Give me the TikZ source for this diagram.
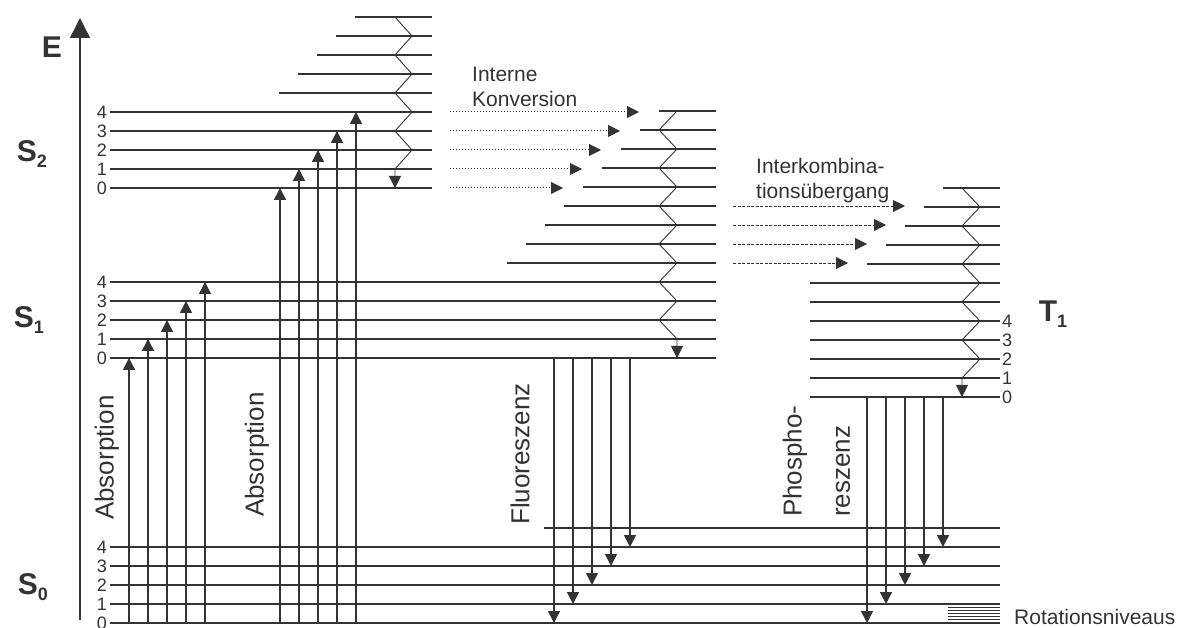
\documentclass[tikz,border=0pt]{standalone}
\usepackage{fontspec}
\setmainfont{Liberation Sans}
\usetikzlibrary{arrows.meta}
\definecolor{ink}{HTML}{333333}
\newcommand{\stsub}[1]{\raisebox{-0.35ex}{\fontsize{18}{18}\selectfont#1}}

\begin{document}
\begin{tikzpicture}[%
      x=1pt,y=-1pt,
      lvl/.style={ink,line width=1.1pt},
      gnd/.style={ink,line width=2.4pt},
      rot/.style={ink,line width=0.6pt},
      trans/.style={ink,line width=1.4pt,-{Triangle[length=12pt,width=12pt]}},
      relax/.style={ink,line width=0.9pt,-{Triangle[length=12pt,width=12pt]}},
      ic/.style={ink,line width=1pt,dotted,-{Triangle[length=12pt,width=12pt]}},
      isc/.style={ink,line width=0.9pt,dash pattern=on 3pt off 1.5pt,-{Triangle[length=12pt,width=12pt]}},
      num/.style={ink,font=\fontsize{18}{19}\selectfont,inner sep=0pt},
      state/.style={ink,font=\fontsize{30}{32}\selectfont\bfseries,inner sep=0pt},
      lab/.style={ink,font=\fontsize{21}{25}\selectfont,inner sep=0pt,align=left,anchor=west},
      vlab/.style={ink,font=\fontsize{26}{31}\selectfont,inner sep=0pt,rotate=90,anchor=west}
      ]
      \useasboundingbox (0,0) rectangle (1179,628);
      \foreach \k in {0,...,5} \coordinate (S0-\k) at (0,{623-19*\k});
      \foreach \k in {0,...,13} \coordinate (S1-\k) at (0,{358-19*\k});
      \foreach \k in {0,...,9} \coordinate (S2-\k) at (0,{188-19*\k});
      \foreach \k in {0,...,11} \coordinate (T1-\k) at (0,{397-19*\k});

      \draw[ink,line width=1.4pt,-{Triangle[length=20pt,width=20pt]}] (80,620) -- (80,18);
      \draw (52,47) node[state] (E) {E};
      \draw (32,154) node[state] (S2) {S\stsub{2}};
      \draw (29,320) node[state] (S1) {S\stsub{1}};
      \draw (33,587) node[state] (S0) {S\stsub{0}};
      \draw (1053,314) node[state] (T1) {T\stsub{1}};

      % S0
      \draw[gnd] (110,0 |- S0-0) -- (1000,0 |- S0-0);
      \foreach \k in {1,...,4} \draw[lvl] (110,0 |- S0-\k) -- (1000,0 |- S0-\k);
      \draw[lvl] (544,0 |- S0-5) -- (1000,0 |- S0-5);
      \foreach \y in {607.5,610.5,...,619.5} \draw[rot] (948,\y) -- (1000,\y);
      \foreach \k in {0,...,4} \node[num,anchor=east] (n-S0-\k) at (107,0 |- S0-\k) {\k};
      \node[lab] (rotniv) at (1014,617) {Rotationsniveaus};

      % S1
      \draw[gnd] (110,0 |- S1-0) -- (716,0 |- S1-0);
      \foreach \k in {1,...,4} \draw[lvl] (110,0 |- S1-\k) -- (716,0 |- S1-\k);
      \foreach \k in {5,...,13} \draw[lvl] ({507+19*(\k-5)},0 |- S1-\k) -- (716,0 |- S1-\k);
      \foreach \k in {0,...,4} \node[num,anchor=east] (n-S1-\k) at (107,0 |- S1-\k) {\k};

      % S2
      \draw[gnd] (110,0 |- S2-0) -- (432,0 |- S2-0);
      \foreach \k in {1,...,4} \draw[lvl] (110,0 |- S2-\k) -- (432,0 |- S2-\k);
      \foreach \k in {5,...,9} \draw[lvl] ({279+19*(\k-5)},0 |- S2-\k) -- (432,0 |- S2-\k);
      \foreach \k in {0,...,4} \node[num,anchor=east] (n-S2-\k) at (107,0 |- S2-\k) {\k};

      % T1
      \draw[gnd] (810,0 |- T1-0) -- (1000,0 |- T1-0);
      \foreach \k in {1,...,6} \draw[lvl] (810,0 |- T1-\k) -- (1000,0 |- T1-\k);
      \foreach \k in {7,...,11} \draw[lvl] ({867+19*(\k-7)},0 |- T1-\k) -- (1000,0 |- T1-\k);
      \foreach \k in {0,...,4} \node[num,anchor=west] (n-T1-\k) at (1002,0 |- T1-\k) {\k};

      % vibrational relaxation
      \draw[relax] (395,0 |- S2-9) \foreach \k in {8,...,1} {-- ({403.5+8.5*cos(180*\k)},0 |- S2-\k)} -- (395,0 |- S2-0);
      \draw[relax] (677,0 |- S1-13) \foreach \k in {12,...,1} {-- ({668-9*cos(180*\k)},0 |- S1-\k)} -- (677,0 |- S1-0);
      \draw[relax] (962,0 |- T1-11) \foreach \k in {10,...,1} {-- ({971+9*cos(180*\k)},0 |- T1-\k)} -- (962,0 |- T1-0);

      % radiative transitions
      \foreach \j in {0,...,4} \draw[trans] ({129+19*\j},0 |- S0-0) -- ({129+19*\j},0 |- S1-\j);
      \foreach \j in {0,...,4} \draw[trans] ({280+19*\j},0 |- S0-0) -- ({280+19*\j},0 |- S2-\j);
      \foreach \j in {0,...,4} \draw[trans] ({554+19*\j},0 |- S1-0) -- ({554+19*\j},0 |- S0-\j);
      \foreach \j in {0,...,4} \draw[trans] ({867+19*\j},0 |- T1-0) -- ({867+19*\j},0 |- S0-\j);

      % radiationless transitions
      \foreach \j in {0,...,4} \draw[ic] (450,0 |- S2-\j) -- ({563+19*\j},0 |- S2-\j);
      \foreach \j in {5,...,8} \draw[isc] (733,0 |- S1-\j) -- ({848+19*(\j-5)},0 |- S1-\j);

      \node[lab] (ic) at (472,87) {Interne\\Konversion};
      \node[lab] (isc) at (756,181) {Interkombina-\\tionsübergang};
      \node[vlab] (abs1) at (107,520) {Absorption};
      \node[vlab] (abs2) at (257,517) {Absorption};
      \node[vlab] (fluo) at (520,525) {Fluoreszenz};
      \node[vlab] (phos) at (795,517) {Phospho-};
      \node[vlab] (resz) at (843,517) {reszenz};
    \end{tikzpicture}
\end{document}
